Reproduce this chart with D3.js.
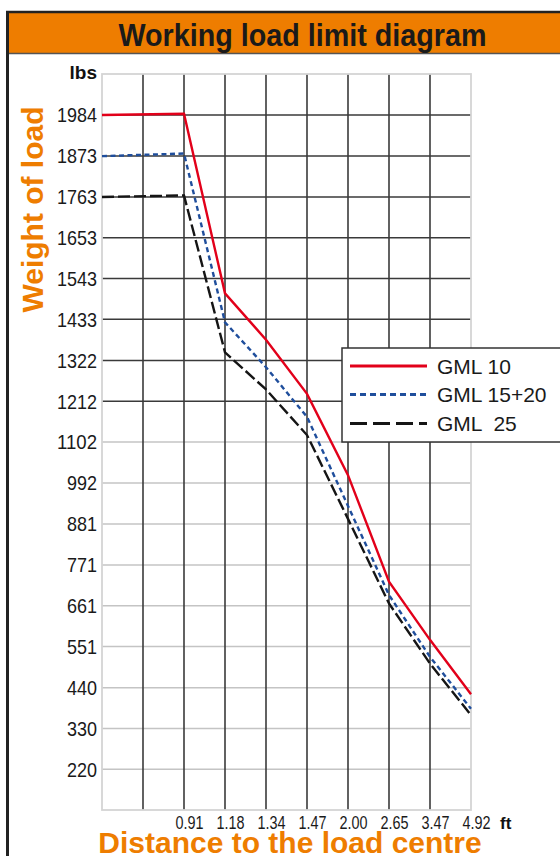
<!DOCTYPE html>
<html>
<head>
<meta charset="utf-8">
<script src="https://cdn.jsdelivr.net/npm/d3@7"></script>
<style>
  html, body { margin: 0; padding: 0; background: #fff; }
  svg { display: block; }
</style>
</head>
<body>
<div id="chart"></div>
<script>
// ---------- data ----------
const title = "Working load limit diagram";
const yTitle = "Weight of load";
const xTitle = "Distance to the load centre";
const yUnit = "lbs";
const xUnit = "ft";
// x positions: two unlabeled columns, then the labelled distances
const xLabels = ["", "", "0.91", "1.18", "1.34", "1.47", "2.00", "2.65", "3.47", "4.92"];
const yTicks = [220, 330, 440, 551, 661, 771, 881, 992, 1102, 1212, 1322, 1433, 1543, 1653, 1763, 1873, 1984];
const yDomain = [110.2, 2094.4];
const seriesNames = ["GML 10", "GML 15+20", "GML  25"];
const gml10   = [1984, null, 1987, 1503, 1378, 1232, 1013, 726, 569, 422];
const gml1520 = [1873, null, 1880, 1425, 1304, 1170, 930, 690, 523, 383];
const gml25   = [1763, null, 1767, 1344, 1244, 1121, 895, 667, 505, 366];
const seriesColors = ["#e2001a", "#1f4e9c", "#151515"];
const seriesDash = [null, "5,3.5", "12,4"];

// ---------- layout ----------
const W = 560, H = 856;
const orange = "#ee7d00";
const plot = { left: 102, right: 471, top: 74, bottom: 810 };
const baseFont = "'Liberation Sans', Arial, sans-serif";

const svg = d3.select("#chart").append("svg").attr("width", W).attr("height", H);

// frame & title bar
svg.append("rect").attr("x", 6).attr("y", 11).attr("width", W).attr("height", 43).attr("fill", orange);
svg.append("line").attr("x1", 6).attr("x2", W).attr("y1", 12).attr("y2", 12).attr("stroke", "#222").attr("stroke-width", 2.5);
svg.append("line").attr("x1", 6).attr("x2", W).attr("y1", 53.5).attr("y2", 53.5).attr("stroke", "#555").attr("stroke-width", 1.5);
svg.append("line").attr("x1", 7.5).attr("x2", 7.5).attr("y1", 11).attr("y2", H).attr("stroke", "#222").attr("stroke-width", 3);
svg.append("text").attr("x", 302.5).attr("y", 45.5).attr("text-anchor", "middle")
  .attr("textLength", 368).attr("lengthAdjust", "spacingAndGlyphs")
  .style("font-family", baseFont).style("font-weight", "bold")
  .style("font-size", "31px").attr("fill", "#1a1a1a").text(title);

// scales
const x = d3.scalePoint().domain(d3.range(xLabels.length)).range([plot.left, plot.right]);
const y = d3.scaleLinear().domain(yDomain).range([plot.bottom, plot.top]);

// grid
const g = svg.append("g");
g.selectAll("line.h").data(yTicks).enter().append("line")
  .attr("x1", plot.left).attr("x2", plot.right)
  .attr("y1", d => y(d)).attr("y2", d => y(d))
  .attr("stroke", d => d >= 1212 ? "#3a3a3a" : "#c4c4c4")
  .attr("stroke-width", 1.5);
g.selectAll("line.v").data(d3.range(1, xLabels.length - 1)).enter().append("line")
  .attr("x1", d => x(d)).attr("x2", d => x(d))
  .attr("y1", plot.top).attr("y2", plot.bottom)
  .attr("stroke", "#3a3a3a").attr("stroke-width", 1.6);
g.append("rect").attr("x", plot.left).attr("y", plot.top)
  .attr("width", plot.right - plot.left).attr("height", plot.bottom - plot.top)
  .attr("fill", "none").attr("stroke", "#d4d4d4").attr("stroke-width", 1.8);

// y axis labels (condensed)
const yAxis = d3.axisLeft(y).tickValues(yTicks).tickFormat(d3.format("d")).tickSize(0).tickPadding(5);
const ya = svg.append("g").attr("transform", `translate(${plot.left},0)`).call(yAxis);
ya.select(".domain").remove();
ya.selectAll("text")
  .attr("textLength", d => String(d).length * 10)
  .attr("lengthAdjust", "spacingAndGlyphs")
  .style("font-family", baseFont)
  .style("font-size", "21px").attr("fill", "#1a1a1a");

// x axis labels (condensed)
const xAxis = d3.axisBottom(x).tickFormat(i => xLabels[i]).tickSize(0).tickPadding(0);
const xa = svg.append("g").attr("transform", `translate(0,${plot.bottom})`).call(xAxis);
xa.select(".domain").remove();
xa.selectAll("text")
  .attr("x", 5).attr("y", 19).attr("dy", 0)
  .attr("textLength", 28).attr("lengthAdjust", "spacingAndGlyphs")
  .style("font-family", baseFont)
  .style("font-size", "17.5px").attr("fill", "#1a1a1a");

// units
svg.append("text").attr("x", 97).attr("y", 79).attr("text-anchor", "end")
  .style("font-family", baseFont).style("font-weight", "bold")
  .style("font-size", "19px").attr("fill", "#111").text(yUnit);
svg.append("text").attr("x", 500).attr("y", 829)
  .style("font-family", baseFont).style("font-weight", "bold")
  .style("font-size", "17px").attr("fill", "#111").text(xUnit);

// axis titles
svg.append("text").attr("transform", "translate(43,209.5) rotate(-90)").attr("text-anchor", "middle")
  .style("font-family", baseFont).style("font-weight", "bold")
  .style("font-size", "30px").attr("fill", orange).text(yTitle);
svg.append("text").attr("x", 290).attr("y", 852.5).attr("text-anchor", "middle")
  .style("font-family", baseFont).style("font-weight", "bold")
  .style("font-size", "30px").attr("fill", orange).text(xTitle);

// series lines
const series = [gml10, gml1520, gml25];
const line = d3.line().x(d => x(d.i)).y(d => y(d.v));
series.forEach((vals, k) => {
  const pts = vals.map((v, i) => ({ i, v })).filter(d => d.v != null);
  svg.append("path").datum(pts).attr("d", line)
    .attr("fill", "none").attr("stroke", seriesColors[k]).attr("stroke-width", 2.4)
    .attr("stroke-dasharray", seriesDash[k]).attr("stroke-linejoin", "miter");
});

// legend
const lg = svg.append("g");
lg.append("rect").attr("x", 342).attr("y", 348).attr("width", 260).attr("height", 94)
  .attr("fill", "#fff").attr("stroke", "#333").attr("stroke-width", 1.5);
const legY = [366, 394.5, 423.5];
seriesNames.forEach((name, k) => {
  lg.append("line").attr("x1", 350).attr("x2", 427).attr("y1", legY[k]).attr("y2", legY[k])
    .attr("stroke", seriesColors[k]).attr("stroke-width", 3)
    .attr("stroke-dasharray", k === 0 ? null : (k === 1 ? "6,4" : "17,6"));
  lg.append("text").attr("x", 437).attr("y", legY[k]).attr("dy", "0.36em")
    .style("font-family", baseFont).style("font-size", "21px")
    .style("white-space", "pre").attr("fill", "#1a1a1a").text(name);
});
</script>
</body>
</html>
